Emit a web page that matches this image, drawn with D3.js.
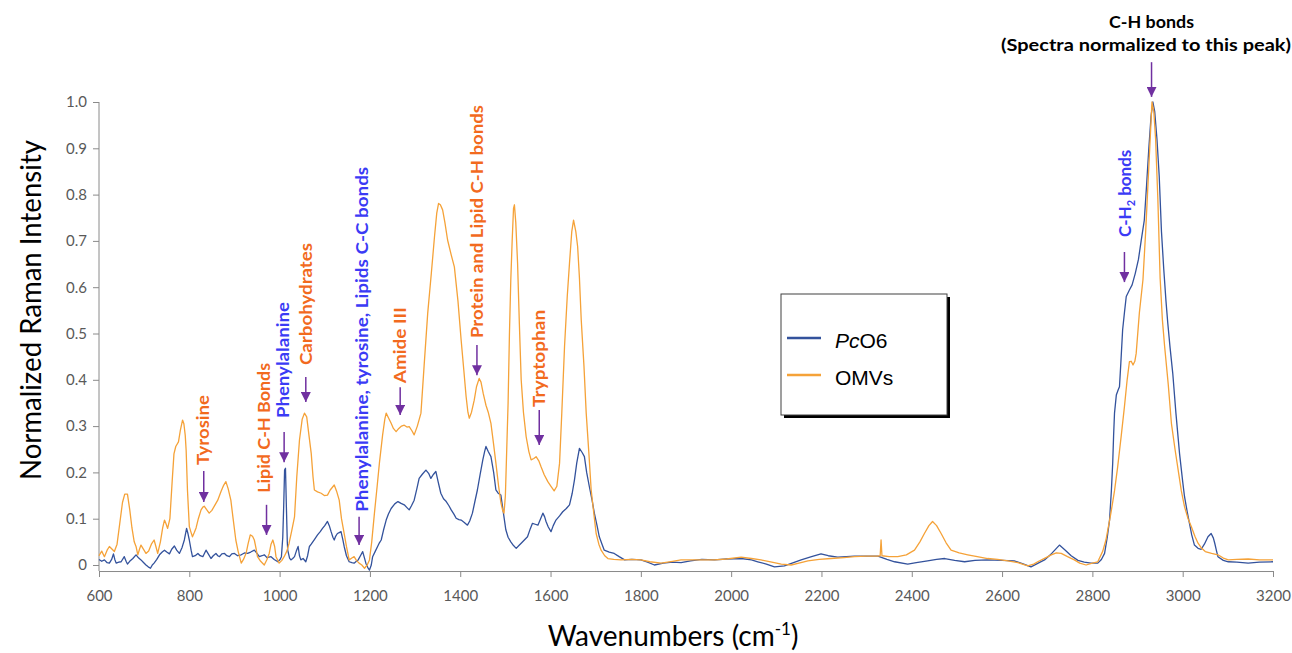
<!DOCTYPE html>
<html><head><meta charset="utf-8">
<script src="https://cdn.jsdelivr.net/npm/d3@7"></script>
<style>body{margin:0;background:#fff;overflow:hidden} svg{display:block}</style>
</head><body>
<svg id="chart" width="1292" height="653"></svg>
<script>
// ---------------- DATA ----------------
const seriesNames = ["PcO6", "OMVs"];
const pcO6Wn = [600,606,612,618,623,628,632,635,638,644,649,656,660,663,668,675,682,688,693,698,704,709,714,718,722,728,734,740,745,750,756,761,767,772,778,784,789,794,797,800,804,807,813,819,824,830,834,837,842,848,853,859,863,867,872,878,883,889,894,900,907,915,922,929,936,944,950,955,961,966,972,981,988,996,1001,1004,1007,1009,1011,1013,1015,1017,1018,1022,1025,1029,1033,1037,1041,1044,1047,1052,1058,1062,1066,1070,1077,1084,1090,1095,1100,1106,1110,1114,1118,1121,1124,1128,1132,1136,1140,1143,1148,1154,1160,1165,1170,1174,1179,1184,1188,1191,1195,1199,1203,1206,1212,1217,1221,1225,1230,1236,1241,1247,1255,1262,1269,1276,1282,1287,1292,1298,1304,1309,1316,1324,1330,1335,1340,1346,1351,1357,1363,1369,1375,1380,1386,1391,1397,1402,1409,1416,1421,1427,1432,1438,1444,1450,1454,1457,1462,1468,1474,1479,1484,1490,1496,1501,1506,1512,1518,1524,1530,1535,1542,1549,1555,1560,1566,1572,1578,1583,1587,1590,1595,1601,1606,1612,1620,1627,1635,1642,1648,1653,1658,1664,1670,1675,1680,1686,1692,1697,1703,1708,1714,1719,1730,1741,1752,1764,1780,1800,1815,1830,1850,1870,1889,1910,1935,1963,1990,2022,2045,2059,2078,2096,2118,2135,2155,2178,2199,2215,2236,2255,2273,2300,2325,2345,2362,2391,2410,2435,2455,2473,2495,2517,2540,2568,2600,2627,2645,2664,2680,2694,2710,2727,2740,2753,2768,2782,2797,2812,2820,2827,2833,2838,2842,2845,2847,2849,2853,2857,2860,2863,2867,2871,2875,2882,2888,2895,2902,2908,2915,2920,2925,2930,2934,2938,2943,2948,2953,2958,2963,2967,2972,2978,2985,2993,3000,3004,3010,3015,3020,3026,3034,3041,3048,3056,3063,3068,3071,3075,3078,3090,3101,3120,3145,3170,3200];
const pcO6Val = [0.012,0.008,0.011,0.005,0.004,0.012,0.024,0.012,0.004,0.006,0.007,0.018,0.008,0.002,0.008,0.014,0.022,0.015,0.011,0.006,0.0,-0.004,-0.007,0.0,0.004,0.012,0.022,0.028,0.032,0.028,0.024,0.034,0.041,0.032,0.025,0.038,0.054,0.079,0.068,0.054,0.032,0.018,0.02,0.025,0.02,0.018,0.026,0.032,0.024,0.014,0.02,0.025,0.02,0.018,0.024,0.025,0.02,0.018,0.024,0.025,0.02,0.022,0.026,0.025,0.028,0.032,0.025,0.018,0.02,0.022,0.016,0.018,0.012,0.007,0.012,0.018,0.06,0.126,0.205,0.209,0.126,0.05,0.032,0.015,0.011,0.014,0.018,0.03,0.04,0.02,0.011,0.014,0.007,0.02,0.04,0.045,0.055,0.065,0.072,0.079,0.085,0.094,0.085,0.072,0.06,0.054,0.062,0.068,0.07,0.072,0.055,0.04,0.02,0.007,0.005,0.004,0.008,0.011,0.02,0.029,0.015,0.004,-0.005,-0.011,0.0,0.018,0.03,0.04,0.048,0.054,0.075,0.097,0.11,0.122,0.132,0.137,0.133,0.13,0.124,0.119,0.128,0.14,0.165,0.187,0.196,0.205,0.198,0.187,0.195,0.202,0.18,0.155,0.143,0.137,0.128,0.119,0.11,0.101,0.098,0.097,0.092,0.086,0.095,0.112,0.135,0.162,0.195,0.227,0.245,0.256,0.245,0.234,0.2,0.162,0.155,0.151,0.11,0.076,0.06,0.05,0.042,0.036,0.042,0.047,0.054,0.061,0.078,0.09,0.088,0.086,0.1,0.112,0.104,0.094,0.082,0.072,0.085,0.097,0.106,0.115,0.122,0.13,0.155,0.184,0.22,0.252,0.243,0.234,0.2,0.169,0.14,0.112,0.085,0.061,0.045,0.032,0.028,0.025,0.018,0.011,0.012,0.011,0.006,0.0,0.004,0.006,0.005,0.009,0.012,0.011,0.013,0.014,0.011,0.007,0.002,-0.004,-0.002,0.004,0.011,0.018,0.024,0.02,0.017,0.018,0.019,0.019,0.019,0.012,0.007,0.002,0.005,0.009,0.012,0.014,0.01,0.007,0.01,0.011,0.01,0.009,0.003,-0.004,0.004,0.011,0.025,0.043,0.032,0.02,0.01,0.006,0.004,0.004,0.012,0.025,0.06,0.097,0.16,0.22,0.28,0.328,0.367,0.378,0.385,0.436,0.508,0.545,0.58,0.594,0.605,0.63,0.66,0.7,0.745,0.82,0.9,0.97,1.0,0.98,0.92,0.84,0.72,0.64,0.57,0.522,0.47,0.414,0.328,0.241,0.18,0.148,0.115,0.09,0.065,0.043,0.036,0.034,0.045,0.061,0.068,0.058,0.047,0.03,0.018,0.01,0.007,0.006,0.004,0.006,0.007];

const omvWn = [600,606,612,618,623,628,634,640,646,652,657,663,668,673,678,682,686,690,693,698,704,710,716,722,726,730,736,741,745,748,752,757,762,766,770,776,780,785,788,791,793,796,800,804,807,811,815,820,826,830,833,838,844,850,857,863,870,876,881,886,892,897,903,908,915,920,926,930,935,940,944,948,951,958,966,972,977,981,985,989,992,999,1005,1010,1016,1021,1027,1033,1038,1044,1050,1055,1060,1065,1070,1074,1077,1084,1092,1099,1106,1112,1117,1121,1126,1132,1137,1143,1148,1154,1160,1165,1170,1176,1182,1188,1194,1199,1204,1210,1216,1221,1228,1233,1236,1241,1247,1252,1258,1264,1270,1276,1282,1287,1293,1298,1305,1313,1320,1328,1336,1343,1348,1352,1356,1361,1366,1372,1380,1387,1395,1402,1408,1413,1417,1420,1425,1431,1436,1442,1446,1451,1457,1462,1468,1474,1479,1485,1490,1494,1497,1500,1503,1506,1509,1512,1515,1518,1520,1523,1527,1531,1535,1540,1546,1552,1557,1563,1568,1574,1579,1586,1594,1601,1608,1614,1620,1625,1631,1637,1642,1647,1651,1656,1660,1664,1668,1674,1679,1685,1690,1696,1701,1707,1712,1720,1727,1740,1756,1780,1800,1820,1845,1870,1889,1920,1963,1990,2022,2045,2066,2090,2111,2133,2150,2170,2195,2221,2250,2273,2300,2325,2330,2332,2334,2350,2369,2388,2406,2418,2428,2438,2446,2455,2465,2476,2487,2505,2524,2545,2568,2590,2613,2635,2657,2670,2679,2695,2709,2720,2731,2745,2760,2772,2786,2800,2812,2823,2830,2841,2849,2856,2864,2871,2877,2882,2886,2890,2894,2897,2904,2912,2918,2922,2926,2930,2932,2936,2940,2945,2950,2955,2960,2968,2975,2983,2990,2997,3004,3012,3019,3027,3034,3042,3050,3064,3078,3090,3101,3120,3145,3170,3200];
const omvVal = [0.02,0.03,0.018,0.032,0.04,0.035,0.029,0.045,0.09,0.135,0.153,0.153,0.12,0.08,0.05,0.04,0.022,0.035,0.043,0.035,0.025,0.03,0.045,0.054,0.04,0.025,0.05,0.08,0.097,0.09,0.079,0.1,0.18,0.24,0.256,0.266,0.29,0.313,0.305,0.28,0.248,0.16,0.083,0.07,0.061,0.07,0.08,0.1,0.119,0.125,0.127,0.12,0.112,0.118,0.13,0.14,0.158,0.172,0.18,0.165,0.14,0.1,0.054,0.03,0.004,0.012,0.026,0.045,0.065,0.062,0.054,0.035,0.018,0.008,0.0,0.012,0.025,0.045,0.054,0.04,0.018,0.004,0.01,0.018,0.03,0.047,0.075,0.104,0.19,0.27,0.315,0.328,0.32,0.28,0.241,0.19,0.162,0.158,0.155,0.15,0.151,0.162,0.168,0.173,0.16,0.14,0.1,0.068,0.04,0.011,0.015,0.018,0.01,0.004,0.0,-0.007,0.0,0.011,0.05,0.112,0.17,0.22,0.28,0.315,0.328,0.318,0.306,0.295,0.288,0.295,0.3,0.302,0.298,0.299,0.29,0.281,0.3,0.328,0.43,0.544,0.63,0.709,0.76,0.781,0.778,0.767,0.74,0.702,0.67,0.644,0.57,0.486,0.42,0.364,0.33,0.317,0.33,0.356,0.385,0.403,0.395,0.37,0.345,0.33,0.306,0.26,0.22,0.17,0.135,0.118,0.112,0.15,0.25,0.35,0.5,0.616,0.7,0.77,0.778,0.74,0.652,0.52,0.4,0.33,0.277,0.245,0.227,0.23,0.234,0.225,0.212,0.195,0.18,0.17,0.16,0.17,0.22,0.33,0.472,0.58,0.652,0.72,0.745,0.72,0.688,0.62,0.529,0.43,0.328,0.24,0.162,0.11,0.068,0.045,0.032,0.02,0.014,0.012,0.011,0.012,0.011,0.007,0.004,0.008,0.011,0.011,0.011,0.013,0.017,0.014,0.011,0.006,0.002,0.0,0.004,0.009,0.012,0.014,0.016,0.018,0.019,0.019,0.02,0.054,0.02,0.018,0.018,0.022,0.032,0.05,0.068,0.085,0.094,0.085,0.068,0.048,0.032,0.026,0.022,0.018,0.014,0.012,0.009,0.005,-0.002,0.002,0.007,0.015,0.022,0.026,0.025,0.018,0.011,0.004,0.0,0.004,0.007,0.03,0.054,0.112,0.16,0.212,0.28,0.342,0.4,0.439,0.44,0.432,0.44,0.457,0.544,0.616,0.72,0.8,0.88,0.96,1.0,0.98,0.92,0.79,0.62,0.53,0.472,0.39,0.306,0.25,0.205,0.16,0.126,0.1,0.083,0.062,0.047,0.036,0.029,0.025,0.022,0.015,0.011,0.012,0.013,0.011,0.011];

const xTicks = [600,800,1000,1200,1400,1600,1800,2000,2200,2400,2600,2800,3000,3200];
const yTicks = [0,0.1,0.2,0.3,0.4,0.5,0.6,0.7,0.8,0.9,1.0];
const yTickLabels = ["0","0.1","0.2","0.3","0.4","0.5","0.6","0.7","0.8","0.9","1.0"];

// annotation texts, arrow wavenumbers and arrow values (top, tip)
const annTexts = ["Tyrosine","Lipid C-H Bonds","Phenylalanine","Carbohydrates","Phenylalanine, tyrosine, Lipids C-C bonds","Amide III","Protein and Lipid C-H bonds","Tryptophan"];
const annKinds = ["o","o","b","o","b","o","o","o"];
const annWn    = [832, 971, 1010, 1058, 1176, 1267, 1437, 1575];
const annTop   = [0.203, 0.130, 0.287, 0.406, 0.104, 0.384, 0.475, 0.335];
const annTip   = [0.136, 0.065, 0.222, 0.352, 0.043, 0.324, 0.410, 0.259];

// ---------------- LAYOUT / STYLE ----------------
const annTextGap = [6, 12, 14, 12, 5, 4, 7, 3];
const annTextLen = [70, 130, 116, 122, 345, 76, 233, 97];
const annTextDx  = [-1, -3, -1, 0, 3, 0, 0, 0];

const W = 1292, H = 653;
const colBlue = "#33529c", colOrange = "#f5a238";
const txtOrange = "#f26a1e", txtBlue = "#3b3bf5", arrowCol = "#7030a0";
const axisCol = "#8a8a8a", tickTxt = "#595959";
const font = "Lato, 'Open Sans', sans-serif";

const svg = d3.select("#chart");
const x = d3.scaleLinear().domain([600, 3200]).range([99, 1273]);
const y = d3.scaleLinear().domain([0, 1]).range([565, 102]);
const axisY = y(-0.013);

// arrow marker
const defs = svg.append("defs");
defs.append("marker").attr("id","ah").attr("viewBox","0 0 10 10")
  .attr("refX",10).attr("refY",5).attr("markerWidth",10).attr("markerHeight",10)
  .attr("markerUnits","userSpaceOnUse").attr("orient","auto")
  .append("path").attr("d","M0,0 L10,5 L0,10 Z").attr("fill",arrowCol);

// axes
const gx = svg.append("g").attr("transform",`translate(0,${axisY})`);
gx.call(d3.axisBottom(x).tickValues(d3.range(600,3201,25)).tickSize(3).tickSizeOuter(0).tickFormat(""));
gx.call(d3.axisBottom(x).tickValues(xTicks).tickSize(6).tickSizeOuter(0).tickPadding(13).tickFormat(d3.format("d")));
gx.selectAll("line").attr("stroke",axisCol);
gx.selectAll("path.domain").attr("stroke",axisCol);
gx.selectAll("text").attr("fill",tickTxt).style("font-family",font).style("font-size","15px");

const gy = svg.append("g").attr("transform","translate(99,0)");
gy.call(d3.axisLeft(y).tickValues(d3.range(0,1.0001,0.02)).tickSize(3).tickSizeOuter(0).tickFormat(""));
gy.call(d3.axisLeft(y).tickValues(yTicks).tickSize(6).tickSizeOuter(0).tickPadding(6).tickFormat((d,i)=>yTickLabels[i]));
gy.selectAll("path.domain").remove();
gy.selectAll("line").attr("stroke",axisCol);
gy.selectAll("text").attr("fill",tickTxt).style("font-family",font).style("font-size","15px");
svg.append("line").attr("x1",99).attr("x2",99).attr("y1",axisY).attr("y2",y(1)).attr("stroke",axisCol);

// axis titles
svg.append("text").attr("transform","translate(31,310) rotate(-90)")
  .attr("text-anchor","middle").attr("dy","0.35em")
  .style("font-family",font).style("font-size","28px").attr("fill","#000")
  .attr("textLength",340).attr("lengthAdjust","spacingAndGlyphs")
  .text("Normalized Raman Intensity");
const xt = svg.append("text").attr("x",673).attr("y",646).attr("text-anchor","middle")
  .style("font-family",font).style("font-size","28px").attr("fill","#000");
xt.append("tspan").text("Wavenumbers (cm");
xt.append("tspan").attr("dy",-11).style("font-size","17px").text("-1");
xt.append("tspan").attr("dy",11).text(")");

// lines
const line = d3.line().x(d=>x(d[0])).y(d=>y(d[1]));
const blueData = pcO6Wn.map((w,i)=>[w,pcO6Val[i]]);
const orangeData = omvWn.map((w,i)=>[w,omvVal[i]]);
svg.append("path").datum(blueData).attr("d",line).attr("fill","none")
  .attr("stroke",colBlue).attr("stroke-width",1.3).attr("stroke-linejoin","round");
svg.append("path").datum(orangeData).attr("d",line).attr("fill","none")
  .attr("stroke",colOrange).attr("stroke-width",1.3).attr("stroke-linejoin","round");

// annotations
annTexts.forEach((t,i)=>{
  const ax = x(annWn[i]);
  svg.append("line").attr("x1",ax).attr("x2",ax).attr("y1",y(annTop[i])).attr("y2",y(annTip[i]))
    .attr("stroke",arrowCol).attr("stroke-width",1.5).attr("marker-end","url(#ah)");
  const ty = y(annTop[i]) - annTextGap[i];
  svg.append("text").attr("transform",`translate(${ax+annTextDx[i]},${ty}) rotate(-90)`)
    .attr("text-anchor","start").attr("dy","0.36em")
    .style("font-family",font).style("font-size","17px").style("font-weight","700")
    .attr("fill", annKinds[i]==="o"?txtOrange:txtBlue)
    .attr("textLength",annTextLen[i]).attr("lengthAdjust","spacingAndGlyphs")
    .text(t);
});

// C-H2 bonds
{
  const ax = x(2871);
  svg.append("line").attr("x1",ax).attr("x2",ax).attr("y1",y(0.676)).attr("y2",y(0.611))
    .attr("stroke",arrowCol).attr("stroke-width",1.5).attr("marker-end","url(#ah)");
  const t = svg.append("text").attr("transform",`translate(${ax},${y(0.676)-15}) rotate(-90)`)
    .attr("dy","0.36em").style("font-family",font).style("font-size","17px").style("font-weight","700")
    .attr("fill",txtBlue);
  t.append("tspan").text("C-H");
  t.append("tspan").attr("dy",4).style("font-size","11px").text("2");
  t.append("tspan").attr("dy",-4).text(" bonds");
}
// C-H bonds (top)
{
  const ax = x(2931);
  svg.append("line").attr("x1",ax).attr("x2",ax).attr("y1",y(1.086)).attr("y2",y(1.011))
    .attr("stroke",arrowCol).attr("stroke-width",1.5).attr("marker-end","url(#ah)");
  svg.append("text").attr("x",ax).attr("y",28).attr("text-anchor","middle")
    .style("font-family",font).style("font-size","17px").style("font-weight","700").attr("fill","#000")
    .attr("textLength",85).attr("lengthAdjust","spacingAndGlyphs").text("C-H bonds");
  svg.append("text").attr("x",1146).attr("y",51).attr("text-anchor","middle")
    .style("font-family",font).style("font-size","17px").style("font-weight","700").attr("fill","#000")
    .attr("textLength",290).attr("lengthAdjust","spacingAndGlyphs").text("(Spectra normalized to this peak)");
}

// legend
const lg = svg.append("g");
lg.append("rect").attr("x",784).attr("y",297).attr("width",166).attr("height",121).attr("fill","#000");
lg.append("rect").attr("x",781).attr("y",294).attr("width",166).attr("height",121)
  .attr("fill","#fff").attr("stroke","#404040").attr("stroke-width",1);
const legCols = [colBlue, colOrange];
seriesNames.forEach((n,i)=>{
  const ly = 338 + i*37;
  lg.append("line").attr("x1",787).attr("x2",821).attr("y1",ly).attr("y2",ly)
    .attr("stroke",legCols[i]).attr("stroke-width",2.5);
  const t = lg.append("text").attr("x",835).attr("y",ly+10)
    .style("font-family","'Liberation Sans', Arial, sans-serif").style("font-size","21px").attr("fill","#000");
  if (n === "PcO6") { t.append("tspan").style("font-style","italic").text("Pc"); t.append("tspan").text("O6"); }
  else t.text(n);
});
</script>
</body></html>
